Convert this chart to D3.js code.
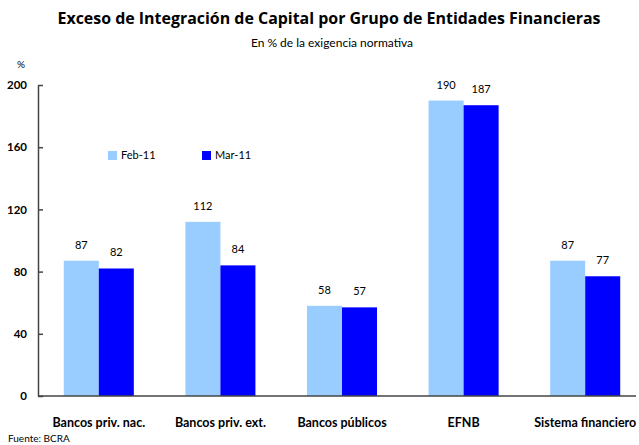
<!DOCTYPE html>
<html><head><meta charset="utf-8">
<script src="https://cdn.jsdelivr.net/npm/d3@7"></script>
<style>body{margin:0;background:#fff}svg{display:block}text{font-family:Lato,"Open Sans",sans-serif;fill:#000}</style>
</head><body>
<svg id="c" width="639" height="445"></svg>
<script>
const categories = ["Bancos priv. nac.","Bancos priv. ext.","Bancos públicos","EFNB","Sistema financiero"];
const seriesNames = ["Feb-11","Mar-11"];
const feb11 = [87,112,58,190,87];
const mar11 = [82,84,57,187,77];
const yTicks = [0,40,80,120,160,200];
const colors = ["#99CCFF","#0000FF"];

const svg = d3.select("#c");
const x0 = 38, x1 = 646, yTop = 85, yBase = 396;
const x = d3.scaleBand().domain(categories).range([x0,x1]).paddingInner(0.424).paddingOuter(0.212);
const xs = d3.scaleBand().domain(seriesNames).range([0,x.bandwidth()]);
const y = d3.scaleLinear().domain([0,200]).range([yBase,yTop]);

const title = svg.append("text").attr("x",329).attr("y",24).attr("text-anchor","middle")
  .style("font-weight","bold").style("font-size","15px").style("font-family","'Open Sans', sans-serif")
  .text("Exceso de Integración de Capital por Grupo de Entidades Financieras");
// fit title to the reference width
const tw = title.node().getComputedTextLength();
title.style("font-size", (15*543/tw).toFixed(2)+"px");

svg.append("text").attr("x",332).attr("y",47).attr("text-anchor","middle")
  .style("font-size","12px").text("En % de la exigencia normativa");
svg.append("text").attr("x",21).attr("y",68).attr("text-anchor","middle")
  .style("font-size","10px").text("%");

// y axis
const yAxis = d3.axisLeft(y).tickValues(yTicks).tickSize(-5).tickPadding(11).tickSizeOuter(0);
const ya = svg.append("g").attr("transform",`translate(${x0},0)`).call(yAxis);
ya.select(".domain").attr("stroke","#444").attr("stroke-width",1.5);
ya.selectAll(".tick line").attr("stroke","#444").attr("stroke-width",1.5);
ya.selectAll(".tick text").style("font-weight","bold").style("font-size","11.5px").style("font-family","Lato, sans-serif").attr("fill","#000");

const series = [feb11, mar11];
categories.forEach((c,i)=>{
  series.forEach((s,j)=>{
    const bx = x(c)+xs(seriesNames[j]);
    svg.append("rect").attr("x",bx).attr("y",y(s[i])).attr("width",xs.bandwidth()).attr("height",yBase-y(s[i])).attr("fill",colors[j]);
    svg.append("text").attr("x",bx+xs.bandwidth()/2).attr("y",y(s[i])-12).attr("text-anchor","middle")
      .style("font-size","11px").text(s[i]);
  });
});

// x axis
const xAxis = d3.axisBottom(x).tickSize(0).tickPadding(22);
const xa = svg.append("g").attr("transform",`translate(0,${yBase})`).call(xAxis);
xa.select(".domain").attr("d",`M${x0},0H636`).attr("stroke","#444").attr("stroke-width",1.5);
xa.selectAll(".tick text").style("font-weight","bold").style("font-size","12.5px").style("font-family","Lato, sans-serif").attr("fill","#000");

// legend
const lg = [[108,"Feb-11"],[202,"Mar-11"]];
lg.forEach(([lx,t],j)=>{
  svg.append("rect").attr("x",lx).attr("y",151).attr("width",9).attr("height",9).attr("fill",colors[j]);
  svg.append("text").attr("x",lx+13).attr("y",159).style("font-size","11px").text(seriesNames[j]);
});

svg.append("text").attr("x",8).attr("y",442).style("font-size","10px").text("Fuente: BCRA");
</script>
</body></html>
